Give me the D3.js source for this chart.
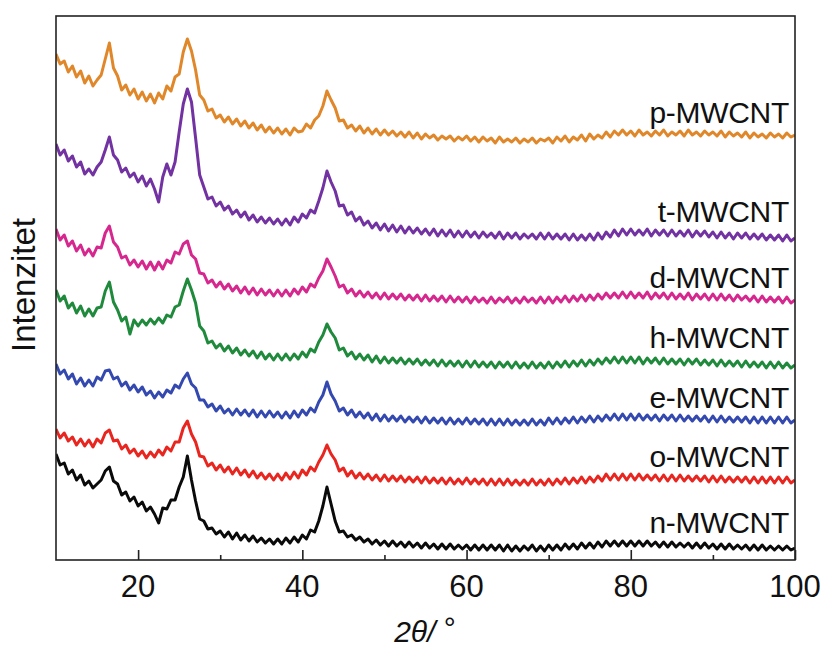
<!DOCTYPE html>
<html>
<head>
<meta charset="utf-8">
<script src="https://cdn.jsdelivr.net/npm/d3@7/dist/d3.min.js"></script>
<style>
  html, body { margin: 0; padding: 0; background: #fff; }
  svg { display: block; }
  text { font-family: "Liberation Sans", Arial, Helvetica, sans-serif; fill: #111; }
</style>
</head>
<body>
<svg id="chart" width="827" height="651"></svg>
<script>
// 2θ sampling grid (degrees), 10 … 100 in 0.5° steps
const twoTheta = d3.range(10, 100.001, 0.5);

// Intensity (a.u., stacked as in the figure), one value per 2θ grid point
const pMWCNT = [
 506,496,499,488,494,483,489,477,484,474,480,485,501,517,492,484,470,475,465,471,
 461,468,459,466,457,467,461,474,469,483,486,508,521,509,490,465,460,449,451,442,
 445,438,443,436,441,434,439,432,437,430,435,428,433,427,432,426,431,425,432,428,
 429,436,432,440,444,454,469,460,452,439,440,432,435,429,434,427,432,426,431,425,
 430,425,429,424,428,423,428,422,427,421,426,422,425,420,424,421,424,419,423,420,
 424,419,423,418,423,419,422,417,423,418,421,418,422,417,421,418,422,417,421,419,
 422,417,423,419,424,418,423,420,425,419,426,421,425,422,428,423,429,425,430,425,
 429,424,430,425,428,424,429,425,430,424,428,425,429,424,430,425,428,424,429,425,
 428,424,429,423,428,424,427,423,428,422,427,423,426,422,427,423,426,422,427,423,
 425];
const tMWCNT = [
 416,405,410,399,404,393,398,386,391,385,393,398,410,423,405,400,388,392,383,387,
 378,384,374,381,371,358,383,396,385,398,428,456,471,458,422,385,373,361,363,354,
 358,350,354,346,350,343,348,340,345,338,343,337,342,336,341,335,341,335,343,338,
 346,342,350,347,359,372,389,378,369,354,355,345,348,339,343,335,339,332,337,330,
 336,329,335,328,334,327,333,327,332,326,331,325,331,324,330,324,330,323,329,323,
 329,323,328,322,328,323,327,322,328,321,327,322,327,321,326,322,326,321,327,321,
 327,321,326,321,326,320,326,320,325,320,326,320,327,321,328,323,330,324,331,325,
 331,325,330,325,331,324,330,325,330,324,330,324,329,324,330,323,329,324,329,323,
 328,322,328,322,327,321,327,322,327,321,326,321,326,320,325,320,325,319,325,319,
 322];
const dMWCNT = [
 331,320,325,314,319,309,315,305,311,304,313,312,327,334,318,313,302,304,295,300,
 293,299,291,298,290,298,291,300,297,308,306,316,319,305,301,287,286,277,280,273,
 278,271,276,269,274,267,273,266,272,265,271,265,270,264,270,264,270,264,271,266,
 273,268,276,273,282,289,301,293,284,273,275,267,271,264,269,263,268,262,267,261,
 267,261,266,261,266,260,265,260,265,259,265,259,264,259,264,258,264,258,263,258,
 263,257,263,258,262,257,263,257,262,258,263,257,262,257,263,258,262,257,263,257,
 263,257,263,258,264,258,264,259,265,259,265,260,266,261,267,262,267,262,268,262,
 268,262,267,262,268,261,267,262,267,261,267,261,266,261,267,260,266,261,266,260,
 266,260,266,260,265,259,265,260,264,259,264,258,264,258,263,258,263,257,263,257,
 260];
const hMWCNT = [
 270,259,264,252,257,247,254,244,251,244,252,253,269,278,258,250,239,243,226,240,
 234,240,235,241,236,242,237,245,243,253,255,269,281,270,257,234,229,217,219,212,
 216,209,214,207,212,205,210,204,209,202,208,201,206,200,206,200,206,200,206,201,
 208,203,211,208,218,225,236,228,222,210,212,204,208,201,206,200,205,198,204,197,
 203,197,202,197,202,196,201,196,201,195,200,195,200,194,200,194,199,194,199,193,
 199,193,199,193,198,193,198,192,198,193,198,192,198,192,197,192,198,192,197,192,
 198,192,198,193,199,193,199,194,200,194,200,195,201,196,202,197,203,197,203,197,
 203,197,203,196,202,197,202,196,202,196,201,196,201,195,201,196,201,195,200,195,
 200,194,200,194,199,194,199,193,199,193,198,193,198,192,198,192,198,192,197,192,
 195];
const eMWCNT = [
 196,186,190,181,186,176,182,174,180,174,183,180,189,190,181,183,174,178,170,175,
 168,173,165,169,162,168,163,170,167,175,172,181,187,176,172,160,160,153,156,149,
 154,147,151,145,151,145,150,144,150,143,149,143,149,143,148,142,148,142,149,143,
 150,145,152,148,158,165,178,166,159,149,152,145,150,143,148,142,147,140,146,139,
 145,139,144,139,144,138,143,138,143,137,143,137,142,137,142,136,142,136,141,136,
 142,136,141,136,141,135,141,135,141,135,141,135,140,135,140,135,141,135,140,135,
 142,136,142,136,142,137,143,137,143,138,144,138,144,139,145,140,146,140,146,140,
 146,140,146,140,145,140,145,139,145,140,145,139,145,139,144,139,144,139,144,138,
 144,138,144,138,143,138,143,138,143,137,143,137,143,137,143,137,143,137,143,137,
 140];
const oMWCNT = [
 131,122,127,119,123,115,121,114,120,113,121,117,127,130,119,120,111,115,107,111,
 104,109,102,108,103,110,105,113,109,118,118,132,139,126,118,104,103,94,97,90,
 95,88,93,86,92,85,90,83,89,82,87,81,86,80,86,80,87,81,88,82,
 90,85,93,89,98,105,115,106,100,89,92,84,89,82,87,81,86,80,85,79,
 85,79,84,79,84,78,83,78,83,77,83,77,82,77,82,76,82,76,81,76,
 82,76,81,76,81,75,81,75,81,75,81,75,80,75,80,75,81,75,80,75,
 81,75,81,76,82,76,82,77,83,77,83,78,84,79,86,80,86,80,86,80,
 86,80,86,80,85,80,85,79,85,79,85,79,85,79,84,79,84,79,84,78,
 84,78,84,78,83,78,83,78,83,77,83,77,83,77,83,77,83,77,83,77,
 80];
const nMWCNT = [
 106,95,97,86,90,80,85,75,79,72,76,80,89,93,79,76,65,68,59,63,
 54,58,49,53,46,37,52,51,60,60,73,83,104,80,59,41,39,31,32,26,
 29,23,28,21,27,20,25,19,24,18,22,17,21,16,21,16,22,17,23,18,
 25,21,30,28,39,54,73,56,39,28,29,23,25,20,23,18,21,16,20,15,
 19,14,19,14,18,13,18,13,17,12,17,12,16,11,16,11,16,11,15,11,
 15,10,15,10,15,10,15,10,15,9,15,9,14,9,14,10,15,9,14,9,
 15,10,15,10,16,11,16,11,17,12,17,12,18,13,19,14,19,14,19,14,
 19,14,19,14,19,14,18,13,18,13,18,13,17,13,17,12,17,12,17,12,
 16,11,16,11,16,11,15,11,15,10,15,10,15,10,14,10,14,10,14,10,
 12];

const seriesNames = ["p-MWCNT", "t-MWCNT", "d-MWCNT", "h-MWCNT", "e-MWCNT", "o-MWCNT", "n-MWCNT"];
const seriesValues = [pMWCNT, tMWCNT, dMWCNT, hMWCNT, eMWCNT, oMWCNT, nMWCNT];
const seriesColors = ["#e0872a", "#7232a2", "#d6278e", "#1f8a3c", "#3449b0", "#e8261f", "#0a0a0a"];
// label baseline height in the same intensity units
const labelLevels = [437, 338, 272, 212, 152, 93, 27];
const xTicksMajor = [20, 40, 60, 80, 100];
const xTicksMinor = [30, 50, 70, 90];

const svg = d3.select("#chart");
const m = { left: 56, top: 16, right: 795, bottom: 560 };

const x = d3.scaleLinear().domain([10, 100]).range([m.left, m.right]);
const y = d3.scaleLinear().domain([0, 544]).range([m.bottom, m.top]);

svg.append("defs").append("clipPath").attr("id", "plotclip")
  .append("rect").attr("x", m.left).attr("y", m.top)
  .attr("width", m.right - m.left).attr("height", m.bottom - m.top);

const line = d3.line().x((d, i) => x(twoTheta[i])).y(d => y(d));

const g = svg.append("g").attr("clip-path", "url(#plotclip)");
seriesValues.forEach((vals, k) => {
  g.append("path")
    .datum(vals)
    .attr("d", line)
    .attr("fill", "none")
    .attr("stroke", seriesColors[k])
    .attr("stroke-width", 3)
    .attr("stroke-linejoin", "round");
});

// frame
svg.append("rect")
  .attr("x", m.left).attr("y", m.top)
  .attr("width", m.right - m.left).attr("height", m.bottom - m.top)
  .attr("fill", "none").attr("stroke", "#222").attr("stroke-width", 1.6);

// inward ticks on the bottom axis
const xAxisMajor = d3.axisBottom(x).tickValues(xTicksMajor).tickSizeInner(-10).tickSizeOuter(0).tickFormat("");
const xAxisMinor = d3.axisBottom(x).tickValues(xTicksMinor).tickSizeInner(-5).tickSizeOuter(0).tickFormat("");
const ga = svg.append("g").attr("transform", `translate(0,${m.bottom})`).call(xAxisMajor);
const gb = svg.append("g").attr("transform", `translate(0,${m.bottom})`).call(xAxisMinor);
[ga, gb].forEach(s => {
  s.select(".domain").remove();
  s.selectAll(".tick line").attr("stroke", "#222").attr("stroke-width", 1.6);
});

// tick labels
svg.append("g").selectAll("text").data(xTicksMajor).join("text")
  .attr("x", d => x(d)).attr("y", 597)
  .attr("text-anchor", "middle")
  .attr("font-size", 31)
  .text(d => d);

// series labels
svg.append("g").selectAll("text").data(seriesNames).join("text")
  .attr("x", 789)
  .attr("y", (d, i) => y(labelLevels[i]))
  .attr("text-anchor", "end")
  .attr("font-size", 30)
  .attr("letter-spacing", -0.3)
  .text(d => d);

// y axis title
svg.append("text")
  .attr("transform", "translate(35,285) rotate(-90)")
  .attr("text-anchor", "middle")
  .attr("font-size", 33)
  .text("Intenzitet");

// x axis title
const xt = svg.append("text")
  .attr("x", 425).attr("y", 642)
  .attr("text-anchor", "middle")
  .attr("font-size", 30);
xt.append("tspan").attr("font-style", "italic").text("2θ");
xt.append("tspan").attr("font-style", "italic").text("/ ");
xt.append("tspan").attr("dy", -4).text("°");
</script>
</body>
</html>
